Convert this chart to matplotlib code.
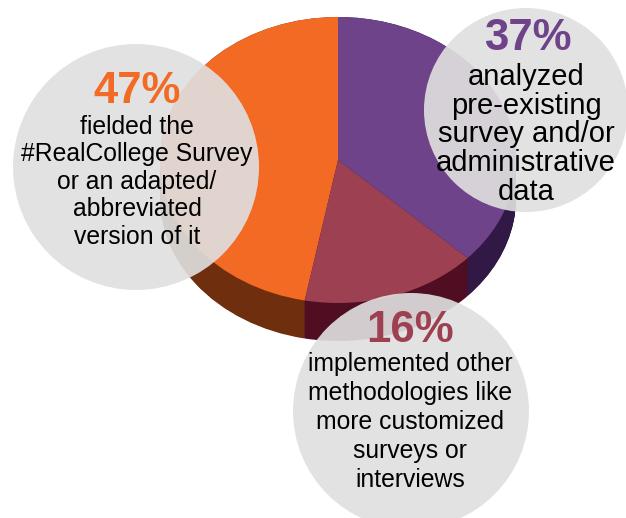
import numpy as np
import matplotlib.pyplot as plt
from matplotlib.patches import Circle

plt.rcParams['font.family'] = ['Liberation Sans', 'DejaVu Sans']

# pie slices, counter-clockwise from 12 o'clock
shares = [47, 16, 37]
top_colors = ['#F26A24', '#9D4052', '#6E438A']
side_colors = ['#6F2E0E', '#500E22', '#321844']

# callouts: left, right, bottom
percent_labels = ['47%', '37%', '16%']
percent_colors = ['#F26A24', '#6E438A', '#9D4052']
descriptions = [
    ['fielded the', '#RealCollege Survey', 'or an adapted/', 'abbreviated', 'version of it'],
    ['analyzed', 'pre-existing', 'survey and/or', 'administrative', 'data'],
    ['implemented other', 'methodologies like', 'more customized', 'surveys or', 'interviews'],
]

W, H = 626, 518
fig = plt.figure(figsize=(W / 100, H / 100), dpi=100)

# tilted pie: ellipse centre and radii in pixels, plus side depth
cx, cy, rx, ry, depth = 338, 160, 178, 143, 38
d = depth / ry
pad = 0.05
x0, x1 = cx - (1 + pad) * rx, cx + (1 + pad) * rx
y0, y1 = cy - (1 + pad) * ry, cy + (1 + d + pad) * ry
pax = fig.add_axes([x0 / W, 1 - y1 / H, (x1 - x0) / W, (y1 - y0) / H])
for off in np.linspace(d, 0, 60):
    pax.pie(shares, colors=side_colors, startangle=90, center=(0, -off),
            wedgeprops=dict(linewidth=0))
pax.pie(shares, colors=top_colors, startangle=90, wedgeprops=dict(linewidth=0))
pax.set_aspect('auto')
pax.set_xlim(-1 - pad, 1 + pad)
pax.set_ylim(-1 - d - pad, 1 + pad)
pax.axis('off')

# overlay in pixel coordinates (y down)
ax = fig.add_axes([0, 0, 1, 1])
ax.set_xlim(0, W)
ax.set_ylim(H, 0)
ax.axis('off')

circles = [((136, 167), 123), ((526, 110), 102), ((411, 411), 118)]
for (c, r) in circles:
    ax.add_patch(Circle(c, r, facecolor='#E0E0E0', edgecolor='none', alpha=0.91))

pct_pos = [(137, 103), (528, 50), (410, 342)]
body_pos = [(137, 134, 27.5, 17.8), (526, 85, 28.7, 21), (410, 371, 29, 17.8)]
for lab, col, (px, py), lines, (bx, by, step, fs) in zip(
        percent_labels, percent_colors, pct_pos, descriptions, body_pos):
    ax.text(px, py, lab, color=col, fontsize=31.5, fontweight='bold',
            ha='center', va='baseline')
    for i, line in enumerate(lines):
        ax.text(bx, by + i * step, line, color='black', fontsize=fs,
                ha='center', va='baseline')

fig.savefig('out.png', dpi=100)
